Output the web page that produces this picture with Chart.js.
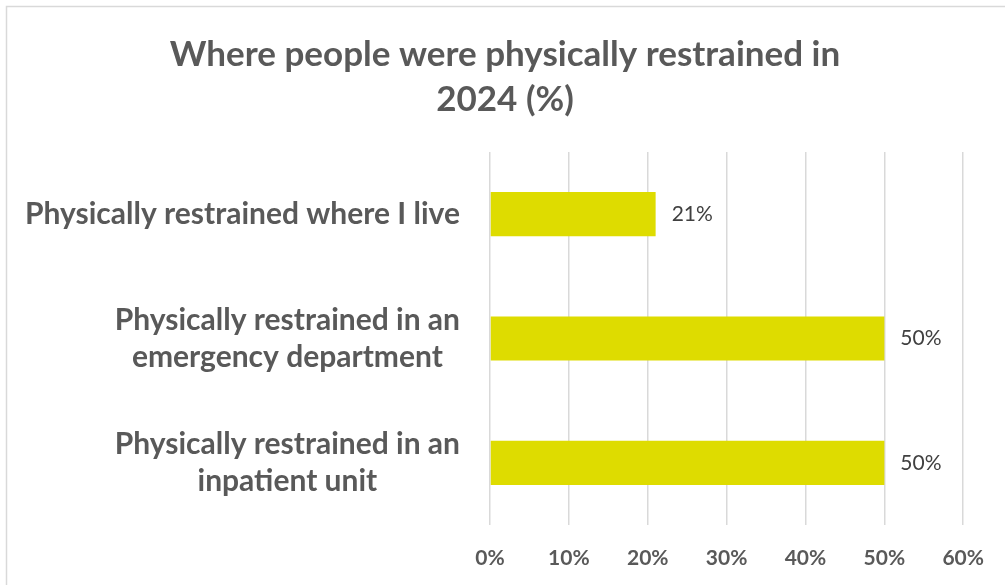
<!DOCTYPE html>
<html>
<head>
<meta charset="utf-8">
<script src="https://cdn.jsdelivr.net/npm/chart.js@4.4.1/dist/chart.umd.min.js"></script>
<style>
  html, body { margin: 0; padding: 0; background: #fff; }
  #wrap { position: relative; width: 1005px; height: 585px; }
</style>
</head>
<body>
<div id="wrap"><canvas id="graph" width="1005" height="585"></canvas></div>
<script>
// categories, one array of lines per label
const categories = [
    ['Physically restrained where I live'],
    ['Physically restrained in an', 'emergency department'],
    ['Physically restrained in an', 'inpatient unit']
];
const values = [21, 50, 50];
const axisMax = 60;
const titleLines = ['Where people were physically restrained in', '2024 (%)'];

const FONT = "Lato, 'Open Sans', sans-serif";
const GRIS = '#595959';

// frame lines on the left and top, like the exported chart
const cadre = {
    id: 'cadre',
    beforeDraw(chart) {
        const ctx = chart.ctx;
        ctx.save();
        ctx.strokeStyle = '#d9d9d9';
        ctx.lineWidth = 1.5;
        ctx.beginPath();
        ctx.moveTo(6.5, 585);
        ctx.lineTo(6.5, 6.5);
        ctx.lineTo(1005, 6.5);
        ctx.stroke();
        ctx.restore();
    }
};

// title, centred on the whole frame
const titre = {
    id: 'titre',
    afterDraw(chart) {
        const ctx = chart.ctx;
        ctx.save();
        ctx.font = 'bold 35px ' + FONT;
        ctx.fillStyle = GRIS;
        ctx.textAlign = 'center';
        ctx.textBaseline = 'middle';
        titleLines.forEach((l, k) => ctx.fillText(l, 505, 55 + k * 45));
        ctx.restore();
    }
};

// category labels: right-aligned block, lines centred inside it
const etiquettes = {
    id: 'etiquettes',
    afterDraw(chart) {
        const ctx = chart.ctx;
        const y = chart.scales.y;
        const droite = 460;
        const hauteurLigne = 37;
        ctx.save();
        ctx.font = 'bold 30px ' + FONT;
        ctx.fillStyle = GRIS;
        ctx.textAlign = 'center';
        ctx.textBaseline = 'middle';
        categories.forEach((lignes, i) => {
            const largeur = Math.max(...lignes.map(l => ctx.measureText(l).width));
            const cx = droite - largeur / 2;
            const cy = y.getPixelForValue(i);
            const haut = cy - (lignes.length - 1) * hauteurLigne / 2;
            lignes.forEach((l, k) => ctx.fillText(l, cx, haut + k * hauteurLigne));
        });
        ctx.restore();
    }
};

// value labels after the end of each bar
const valeurs = {
    id: 'valeurs',
    afterDatasetsDraw(chart) {
        const ctx = chart.ctx;
        const meta = chart.getDatasetMeta(0);
        ctx.save();
        ctx.font = '21px ' + FONT;
        ctx.fillStyle = '#404040';
        ctx.textAlign = 'left';
        ctx.textBaseline = 'middle';
        meta.data.forEach((bar, i) => {
            ctx.fillText(values[i] + '%', bar.x + 16, bar.y);
        });
        ctx.restore();
    }
};

new Chart(document.getElementById('graph'), {
    type: 'bar',
    data: {
        labels: categories,
        datasets: [{
            data: values,
            backgroundColor: '#dedc00',
            borderWidth: 0,
            barPercentage: 1,
            categoryPercentage: 0.355
        }]
    },
    options: {
        indexAxis: 'y',
        responsive: false,
        animation: false,
        layout: { padding: { left: 0, right: 41, top: 152, bottom: 0 } },
        plugins: {
            legend: { display: false },
            tooltip: { enabled: false },
            title: { display: false }
        },
        scales: {
            x: {
                min: 0,
                max: axisMax,
                ticks: {
                    stepSize: 10,
                    padding: 21,
                    color: GRIS,
                    font: { family: FONT, size: 21, weight: 'bold' },
                    callback: v => v + '%'
                },
                grid: { color: '#d9d9d9', lineWidth: 1.5, drawTicks: false },
                border: { display: false },
                afterFit(scale) { scale.height = 60; }
            },
            y: {
                ticks: { display: false },
                grid: { display: false, drawTicks: false },
                border: { display: false },
                afterFit(scale) { scale.width = 490; }
            }
        }
    },
    plugins: [cadre, titre, etiquettes, valeurs]
});
</script>
</body>
</html>
